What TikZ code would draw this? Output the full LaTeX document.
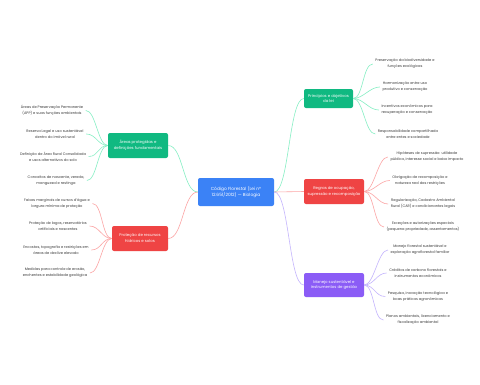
\documentclass[tikz,border=0pt]{standalone}
\usepackage{fontspec}
\setmainfont{Poppins}
\definecolor{rootc}{HTML}{3B82F6}
\definecolor{grc}{HTML}{10B981}
\definecolor{rdc}{HTML}{EF4444}
\definecolor{puc}{HTML}{8B5CF6}
\definecolor{grl}{HTML}{86EFC4}
\definecolor{rdl}{HTML}{FCA5A5}
\definecolor{pul}{HTML}{C4B5FD}
\definecolor{leafc}{HTML}{3A3A3A}
\begin{document}
\begin{tikzpicture}[x=1bp,y=-1bp,
  root/.style={fill=rootc, text=white, rounded corners=2bp, minimum width=76bp, minimum height=28bp, align=center, inner sep=0pt, font=\fontsize{4.4}{6.6}\selectfont},
  branch/.style={text=white, rounded corners=2bp, align=center, inner sep=0pt, font=\fontsize{3.9}{6}\selectfont},
  leaf/.style={text=leafc, align=center, inner xsep=2.5bp, inner ysep=1bp, font=\fontsize{3.6}{6}\selectfont},
  link/.style={line width=0.6bp}
]
\useasboundingbox[fill=white] (0,0) rectangle (480,384);

\node[root] (c) at (236,192) {Código Florestal (Lei nº\\12.651/2012) — Biologia};

\node[branch, fill=grc, minimum width=60bp, minimum height=25bp] (b1) at (138,145.5) {Áreas protegidas e\\definições fundamentais};
\node[branch, fill=rdc, minimum width=56bp, minimum height=25bp] (b2) at (140,238.5) {Proteção de recursos\\hídricos e solos};
\node[branch, fill=grc, minimum width=49bp, minimum height=19bp] (b3) at (328.5,98.5) {Princípios e objetivos\\da lei};
\node[branch, fill=rdc, minimum width=60bp, minimum height=25bp] (b4) at (334,191.5) {Regras de ocupação,\\supressão e recomposição};
\node[branch, fill=puc, minimum width=60bp, minimum height=24bp] (b5) at (334,285) {Manejo sustentável e\\instrumentos de gestão};

% left green leaves
\node[leaf] (l1) at (52,110.5) {Áreas de Preservação Permanente\\(APP) e suas funções ambientais};
\node[leaf] (l2) at (55,134) {Reserva Legal e uso sustentável\\dentro do imóvel rural};
\node[leaf] (l3) at (53,156.5) {Definição de Área Rural Consolidada\\e usos alternativos do solo};
\node[leaf] (l4) at (56,180.5) {Conceitos de nascente, vereda,\\manguezal e restinga};
% left red leaves
\node[leaf] (l5) at (57,203.5) {Faixas marginais de cursos d'água e\\largura mínima de proteção};
\node[leaf] (l6) at (58,226) {Proteção de lagos, reservatórios\\artificiais e nascentes};
\node[leaf] (l7) at (56,250) {Encostas, topografia e restrições em\\áreas de declive elevado};
\node[leaf] (l8) at (55,273) {Medidas para controle de erosão,\\enchentes e estabilidade geológica};
% right green leaves
\node[leaf] (r1) at (405,64) {Preservação da biodiversidade e\\funções ecológicas};
\node[leaf] (r2) at (405,87) {Harmonização entre uso\\produtivo e conservação};
\node[leaf] (r3) at (407,110) {Incentivos econômicos para\\recuperação e conservação};
\node[leaf] (r4) at (408,134) {Responsabilidade compartilhada\\entre entes e sociedade};
% right red leaves
\node[leaf] (r5) at (427,157) {Hipóteses de supressão: utilidade\\pública, interesse social e baixo impacto};
\node[leaf] (r6) at (420,180.5) {Obrigação de recomposição e\\natureza real das restrições};
\node[leaf] (r7) at (423,204) {Regularização, Cadastro Ambiental\\Rural (CAR) e condicionantes legais};
\node[leaf] (r8) at (423,227) {Exceções e autorizações especiais\\(pequena propriedade, assentamentos)};
% right purple leaves
\node[leaf] (r9) at (420,250) {Manejo florestal sustentável e\\exploração agroflorestal familiar};
\node[leaf] (r10) at (418,273) {Créditos de carbono florestais e\\instrumentos econômicos};
\node[leaf] (r11) at (418,296.5) {Pesquisa, inovação tecnológica e\\boas práticas agronômicas};
\node[leaf] (r12) at (418,320) {Planos ambientais, licenciamento e\\fiscalização ambiental};

% root links
\draw[link, grl] (c.west) .. controls +(-15,0) and +(15,0) .. (b1.east);
\draw[link, rdl] (c.west) .. controls +(-15,0) and +(15,0) .. (b2.east);
\draw[link, grl] (c.east) .. controls +(15,0) and +(-15,0) .. (b3.west);
\draw[link, rdl] (c.east) .. controls +(15,0) and +(-15,0) .. (b4.west);
\draw[link, pul] (c.east) .. controls +(15,0) and +(-15,0) .. (b5.west);

% leaf links
\foreach \l in {l1,l2,l3,l4}
  \draw[link, grl] (b1.west) .. controls +(-10,0) and +(10,0) .. (\l.east);
\foreach \l in {l5,l6,l7,l8}
  \draw[link, rdl] (b2.west) .. controls +(-10,0) and +(10,0) .. (\l.east);
\foreach \l in {r1,r2,r3,r4}
  \draw[link, grl] (b3.east) .. controls +(10,0) and +(-10,0) .. (\l.west);
\foreach \l in {r5,r6,r7,r8}
  \draw[link, rdl] (b4.east) .. controls +(10,0) and +(-10,0) .. (\l.west);
\foreach \l in {r9,r10,r11,r12}
  \draw[link, pul] (b5.east) .. controls +(10,0) and +(-10,0) .. (\l.west);
\end{tikzpicture}
\end{document}
